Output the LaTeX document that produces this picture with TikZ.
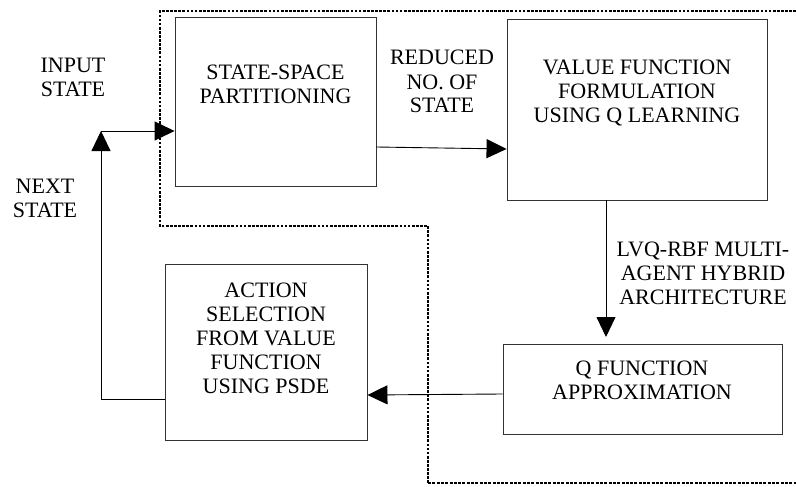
\documentclass[tikz,border=0pt]{standalone}
\usepackage{fontspec}
\setmainfont{Liberation Serif}
\newfontfamily\tnr{Liberation Serif}
\usetikzlibrary{arrows.meta}
\begin{document}
\begin{tikzpicture}[x=1pt,y=-1pt,
  blk/.style={draw, line width=0.9pt, draw=black!80, inner sep=0pt},
  lbl/.style={align=center, font=\tnr\fontsize{22}{24}\selectfont, inner sep=0pt},
  conn/.style={line width=0.9pt, -{Triangle[length=20pt,width=19pt]}},
  dotb/.style={line width=2.7pt, dash pattern=on 2.7pt off 1.4pt},
  dotthin/.style={line width=1.1pt, dash pattern=on 3pt off 1.3pt}]
\useasboundingbox (0,0) rectangle (796,487);
% dotted boundary
\draw[dotb] (796,11) -- (160,11) -- (160,226) -- (428,226) -- (428,483);
\draw[dotthin] (428,483) -- (796,483);
% boxes
\node[blk, minimum width=201pt, minimum height=169pt] (ssp) at (275.5,101.5) {};
\node[blk, minimum width=260pt, minimum height=181pt] (vff) at (637,109.5) {};
\node[blk, minimum width=279pt, minimum height=90pt] (qfa) at (642.5,389) {};
\node[blk, minimum width=202pt, minimum height=176pt] (asl) at (266,352) {};
% box texts (anchor base = last line baseline)
\node[lbl, anchor=base] (t1) at (275.5,103) {STATE-SPACE\\PARTITIONING};
\node[lbl, anchor=base] (t2) at (637,122) {VALUE FUNCTION\\FORMULATION\\USING Q LEARNING};
\node[lbl, anchor=base] (t3) at (642,399) {Q FUNCTION\\APPROXIMATION};
\node[lbl, anchor=base] (t4) at (266,393) {ACTION\\SELECTION\\FROM VALUE\\FUNCTION\\USING PSDE};
% free labels
\node[lbl, anchor=base] (l1) at (73,96) {INPUT\\STATE};
\node[lbl, anchor=base] (l2) at (45,217) {NEXT\\STATE};
\node[lbl, anchor=base] (l3) at (442,113) {REDUCED\\NO. OF\\STATE};
\node[lbl, anchor=base] (l4) at (703,304) {LVQ-RBF MULTI-\\AGENT HYBRID\\ARCHITECTURE};
% coordinates
\coordinate (c1) at (101,399);
\coordinate (c2) at (101,131);
% connectors
\draw[conn] (ssp.east |- 0,147) -- (vff.west |- 0,149);
\draw[conn] (vff.south -| 606,0) -- (606,337);
\draw[conn] (qfa.west |- 0,394) -- (asl.east |- 0,395);
\draw[line width=0.9pt] (asl.west |- 0,399) -- (c1);
\draw[conn] (c1) -- (c2);
\draw[conn] (c2) -- (ssp.west |- 0,131);
\end{tikzpicture}
\end{document}
